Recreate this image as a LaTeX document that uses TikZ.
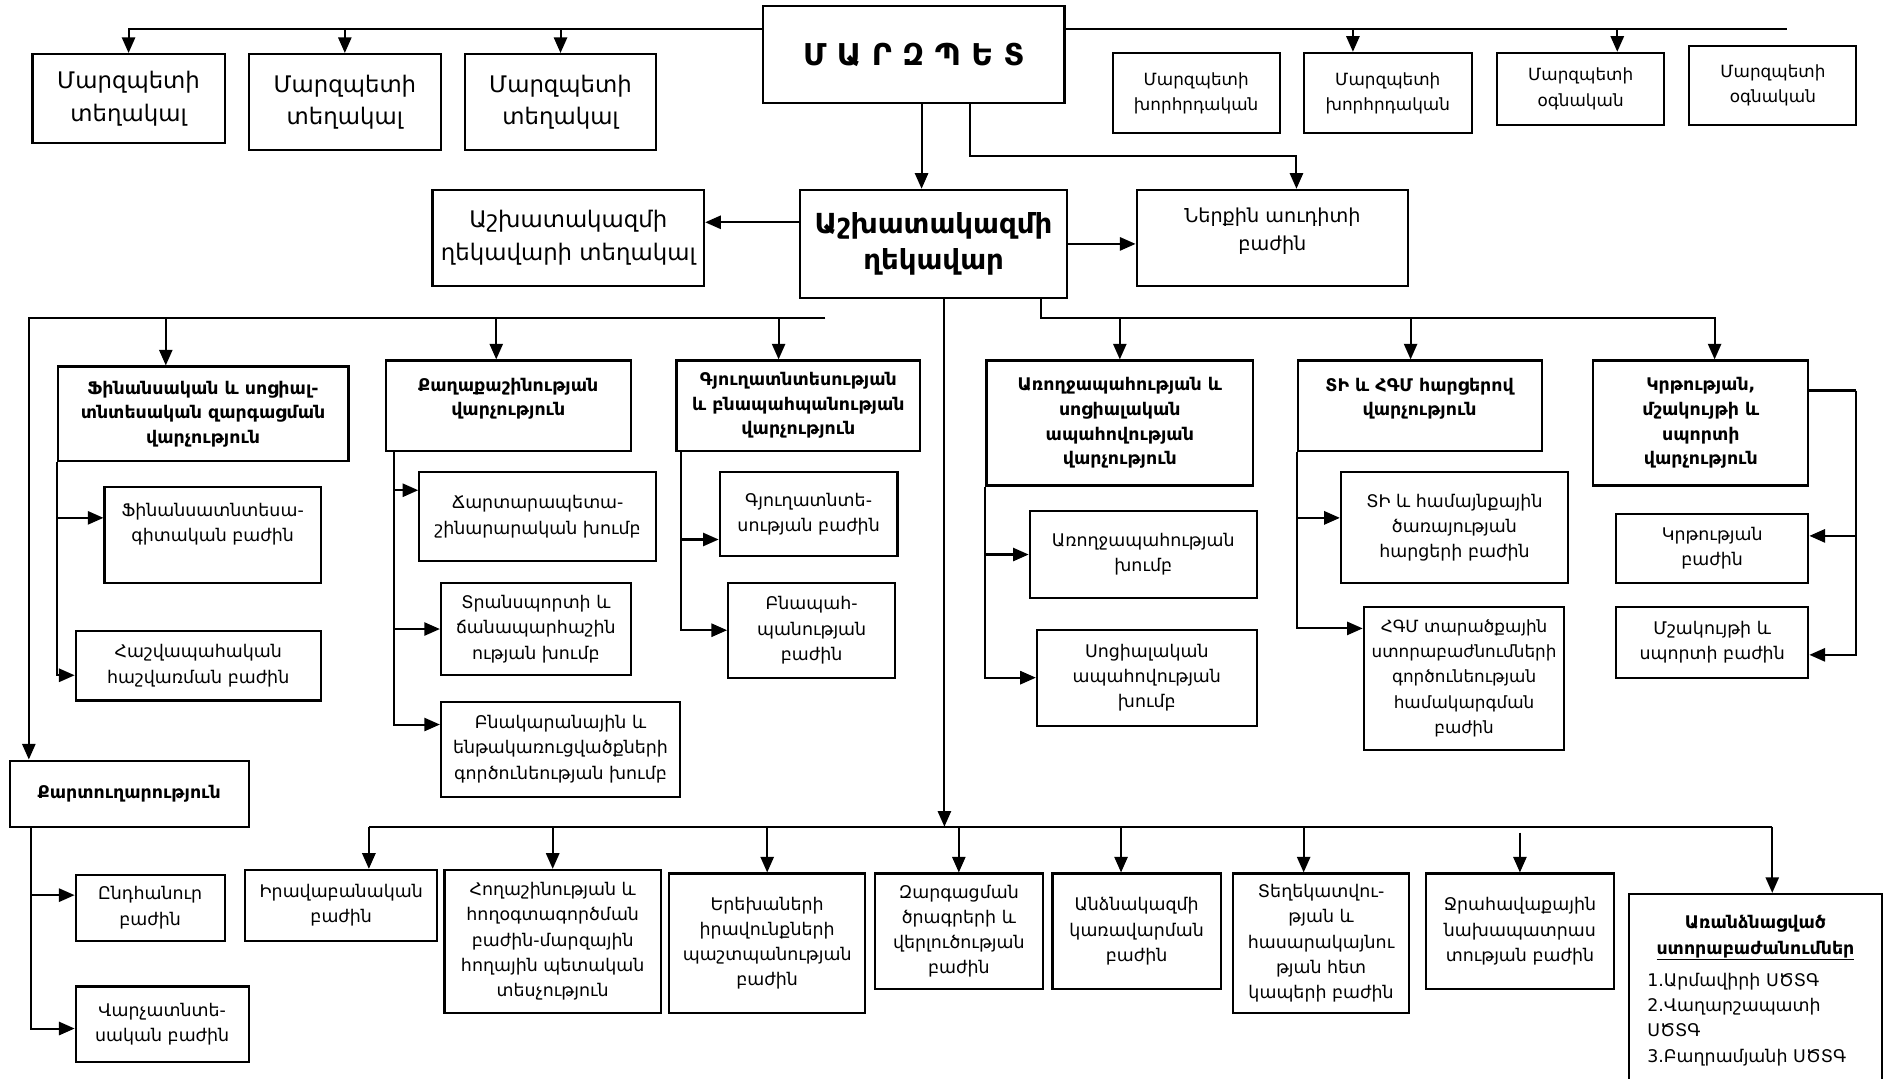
\documentclass[tikz,border=0pt]{standalone}
\usepackage{fontspec}
\setmainfont{DejaVu Sans}
\usetikzlibrary{arrows.meta}

\begin{document}
\begin{tikzpicture}[x=1pt,y=-1pt]
\tikzset{every node/.style={font=\fontsize{14.5}{21}\selectfont}}
\tikzset{bx/.style={draw,line width=1.8pt,align=center,inner sep=2pt}}
\tikzset{big/.style={font=\fontsize{19}{27}\selectfont}}
\tikzset{sm/.style={font=\fontsize{14}{21}\selectfont}}
\tikzset{hd/.style={font=\bfseries\fontsize{14.5}{20.5}\selectfont}}
\tikzset{ln/.style={line width=1.7pt}}
\tikzset{arr/.style={ln,-{Triangle[length=13pt,width=11pt]}}}
\useasboundingbox (0,0) rectangle (1568,898);

\node[bx,minimum width=251pt,minimum height=81pt,font=\bfseries\fontsize{25}{30}\selectfont] (mz) at (760.5,45.5) {Մ Ա Ր Զ Պ Ե Տ};
\node[bx,big,minimum width=160pt,minimum height=74pt] (t1) at (107,82) {Մարզպետի\\տեղակալ};
\node[bx,big,minimum width=160pt,minimum height=80pt] (t2) at (287,85) {Մարզպետի\\տեղակալ};
\node[bx,big,minimum width=159pt,minimum height=80pt] (t3) at (466.5,85) {Մարզպետի\\տեղակալ};
\node[bx,sm,minimum width=139pt,minimum height=67pt] (k1) at (995.5,77.5) {Մարզպետի\\խորհրդական};
\node[bx,sm,minimum width=140pt,minimum height=67pt] (k2) at (1155,77.5) {Մարզպետի\\խորհրդական};
\node[bx,sm,minimum width=139pt,minimum height=60pt] (o1) at (1315.5,74) {Մարզպետի\\օգնական};
\node[bx,sm,minimum width=139pt,minimum height=66pt] (o2) at (1475.5,71) {Մարզպետի\\օգնական};

\node[bx,big,minimum width=226pt,minimum height=80pt] (dep) at (473,198) {Աշխատակազմի\\ղեկավարի տեղակալ};
\node[bx,minimum width=222pt,minimum height=90pt,font=\bfseries\fontsize{23}{30}\selectfont] (gh) at (777,203) {Աշխատակազմի\\ղեկավար};
\node[bx,font=\fontsize{16}{23}\selectfont,minimum width=226pt,minimum height=80pt] (aud) at (1059,198) {Ներքին աուդիտի\\բաժին\\[-8pt]\mbox{}};

\node[bx,hd,minimum width=242pt,minimum height=79pt] (fin) at (169,344.5) {Ֆինանսական և  սոցիալ-\\տնտեսական զարգացման\\վարչություն};
\node[bx,hd,minimum width=204pt,minimum height=75pt] (qq) at (423,337.5) {Քաղաքաշինության\\վարչություն\\[-6pt]\mbox{}};
\node[bx,hd,minimum width=203pt,minimum height=75pt] (gy) at (664.5,337.5) {Գյուղատնտեսության\\և բնապահպանության\\վարչություն};
\node[bx,hd,minimum width=222pt,minimum height=104pt] (ar) at (932,352) {Առողջապահության և\\սոցիալական\\ապահովության\\վարչություն};
\node[bx,hd,minimum width=203pt,minimum height=75pt] (ti) at (1181.5,337.5) {ՏԻ և  ՀԳՄ հարցերով\\վարչություն\\[-6pt]\mbox{}};
\node[bx,hd,minimum width=179pt,minimum height=104pt] (kr) at (1415.5,352) {Կրթության,\\մշակույթի և\\սպորտի\\վարչություն};

\node[bx,minimum width=180pt,minimum height=80pt] (f1) at (177,445) {Ֆինանսատնտեսա-\\գիտական բաժին\\\mbox{}};
\node[bx,minimum width=204pt,minimum height=58pt] (f2) at (165,554) {Հաշվապահական\\հաշվառման բաժին};
\node[bx,minimum width=197pt,minimum height=74pt] (q1) at (447.5,430) {Ճարտարապետա-\\շինարարական խումբ};
\node[bx,minimum width=158pt,minimum height=77pt] (q2) at (446,523.5) {Տրանսպորտի և\\ճանապարհաշին\\ության  խումբ};
\node[bx,minimum width=199pt,minimum height=79pt] (q3) at (466.5,623.5) {Բնակարանային և\\ենթակառուցվածքների\\գործունեության խումբ};
\node[bx,minimum width=148pt,minimum height=70pt] (g1) at (673,428) {Գյուղատնտե-\\սության բաժին};
\node[bx,minimum width=139pt,minimum height=79pt] (g2) at (675.5,524.5) {Բնապահ-\\պանության\\բաժին};
\node[bx,minimum width=189pt,minimum height=73pt] (a1) at (951.5,461.5) {Առողջապահության\\խումբ};
\node[bx,minimum width=183pt,minimum height=80pt] (a2) at (954.5,564) {Սոցիալական\\ապահովության\\խումբ};
\node[bx,minimum width=189pt,minimum height=92pt] (i1) at (1210.5,439) {ՏԻ և համայնքային\\ծառայության\\հարցերի բաժին};
\node[bx,minimum width=167pt,minimum height=119pt,font=\fontsize{14}{21}\selectfont] (i2) at (1218.5,564.5) {ՀԳՄ տարածքային\\ստորաբաժնումների\\գործունեության\\համակարգման\\բաժին};
\node[bx,minimum width=160pt,minimum height=57pt] (kb1) at (1425,456.5) {Կրթության\\բաժին};
\node[bx,minimum width=160pt,minimum height=59pt] (kb2) at (1425,534.5) {Մշակույթի և\\սպորտի բաժին};

\node[bx,hd,minimum width=199pt,minimum height=55pt] (kt) at (107.5,660.5) {Քարտուղարություն};
\node[bx,minimum width=124pt,minimum height=55pt] (kt1) at (125,755.5) {Ընդհանուր\\բաժին};
\node[bx,minimum width=144pt,minimum height=63pt] (kt2) at (135,852.5) {Վարչատնտե-\\սական բաժին};

\node[bx,minimum width=160pt,minimum height=59pt] (b1) at (284,753.5) {Իրավաբանական\\բաժին};
\node[bx,minimum width=180pt,minimum height=119pt] (b2) at (460,783.5) {Հողաշինության և\\հողօգտագործման\\բաժին-մարզային\\հողային պետական\\տեսչություն};
\node[bx,minimum width=163pt,minimum height=116pt] (b3) at (638.5,785) {Երեխաների\\իրավունքների\\պաշտպանության\\բաժին};
\node[bx,minimum width=140pt,minimum height=96pt] (b4) at (798,775) {Զարգացման\\ծրագրերի և\\վերլուծության\\բաժին};
\node[bx,minimum width=140pt,minimum height=96pt] (b5) at (946,775) {Անձնակազմի\\կառավարման\\բաժին};
\node[bx,minimum width=147pt,minimum height=116pt] (b6) at (1099.5,785) {Տեղեկատվու-\\թյան և\\հասարակայնու\\թյան հետ\\կապերի բաժին};
\node[bx,minimum width=156pt,minimum height=96pt] (b7) at (1265,775) {Ջրահավաքային\\նախապատրաս\\տության  բաժին};
\node[bx,minimum width=210pt,minimum height=161pt] (b8) at (1461,824.5) {\textbf{Առանձնացված}\\\textbf{\underline{ստորաբաժանումներ}}\\[6pt]\makebox[180pt][l]{1.Արմավիրի ՍԾՏԳ}\\\makebox[180pt][l]{2.Վաղարշապատի}\\\makebox[180pt][l]{ՍԾՏԳ}\\\makebox[180pt][l]{3.Բաղրամյանի ՍԾՏԳ}};

\coordinate (bt) at (0,24);
\coordinate (btr) at (1487,24);
\coordinate (ak2) at (1126,24);
\coordinate (ao1) at (1346,24);
\draw[arr] (mz.west |- bt) -| (t1.north);
\draw[arr] (t2.north |- bt) -- (t2.north);
\draw[arr] (t3.north |- bt) -- (t3.north);
\draw[ln] (mz.east |- bt) -- (btr);
\draw[arr] (ak2) -- (ak2 |- k2.north);
\draw[arr] (ao1) -- (ao1 |- o1.north);

\coordinate (amz) at (767,86);
\coordinate (bmz) at (807,86);
\coordinate (aaud) at (1079,0);
\coordinate (agh) at (666,185);
\draw[arr] (amz) -- (amz |- gh.north);
\draw[arr] (bmz) -- ++(0,44) -| (aaud |- aud.north);
\draw[arr] (agh) -- (agh -| dep.east);
\draw[arr] (gh.east) -- (gh.east -| aud.west);

\coordinate (bl) at (24,265);
\coordinate (ble) at (687,265);
\coordinate (afin) at (138,265);
\coordinate (aqq) at (413,265);
\coordinate (agy) at (648,265);
\draw[arr] (ble) -- (bl) -- (bl |- kt.north);
\draw[arr] (afin) -- (afin |- fin.north);
\draw[arr] (aqq) -- (aqq |- qq.north);
\draw[arr] (agy) -- (agy |- gy.north);

\coordinate (bgh) at (866,248);
\coordinate (bre) at (1427,265);
\coordinate (ati) at (1174,265);
\draw[arr] (bgh) |- (bre) -- (bre |- kr.north);
\draw[arr] (ar.north |- bre) -- (ar.north);
\draw[arr] (ati) -- (ati |- ti.north);

\coordinate (vq) at (328,375);
\coordinate (vg) at (567,375);
\coordinate (vk) at (1545,325);
\coordinate (vkt) at (26,688);
\draw[arr] (fin.south west) |- ([yshift=14pt]f1.west);
\draw[arr] (fin.south west) |- ([yshift=-8pt]f2.west);
\draw[arr] (vq) |- ([yshift=22pt]q1.west);
\draw[arr] (vq) |- (q2.west);
\draw[arr] (vq) |- ([yshift=20.5pt]q3.west);
\draw[arr] (vg) |- ([yshift=-21pt]g1.west);
\draw[arr] (vg) |- (g2.west);
\draw[arr] (ar.south west) |- (a1.west);
\draw[arr] (ar.south west) |- (a2.west);
\draw[arr] (ti.south west) |- ([yshift=8pt]i1.west);
\draw[arr] (ti.south west) |- ([yshift=41.5pt]i2.west);
\draw[ln] (kr.east |- vk) -- (vk);
\draw[arr] (vk) |- ([yshift=10.5pt]kb1.east);
\draw[arr] (vk) |- ([yshift=-10.5pt]kb2.east);
\draw[arr] (vkt) |- ([yshift=10.5pt]kt1.west);
\draw[arr] (vkt) |- ([yshift=-3.5pt]kt2.west);

\coordinate (cgh) at (786,248);
\coordinate (bb) at (307,688);
\coordinate (bbe) at (1475,688);
\coordinate (ab5) at (933,688);
\coordinate (ab6) at (1085,688);
\coordinate (ab7) at (1265,693);
\draw[arr] (cgh) -- (cgh |- bb);
\draw[ln] (bb) -- (bbe);
\draw[arr] (bb) -- (bb |- b1.north);
\draw[arr] (b2.north |- bb) -- (b2.north);
\draw[arr] (b3.north |- bb) -- (b3.north);
\draw[arr] (b4.north |- bb) -- (b4.north);
\draw[arr] (ab5) -- (ab5 |- b5.north);
\draw[arr] (ab6) -- (ab6 |- b6.north);
\draw[arr] (ab7) -- (ab7 |- b7.north);
\draw[arr] (bbe) -- (bbe |- b8.north);
\end{tikzpicture}
\end{document}
